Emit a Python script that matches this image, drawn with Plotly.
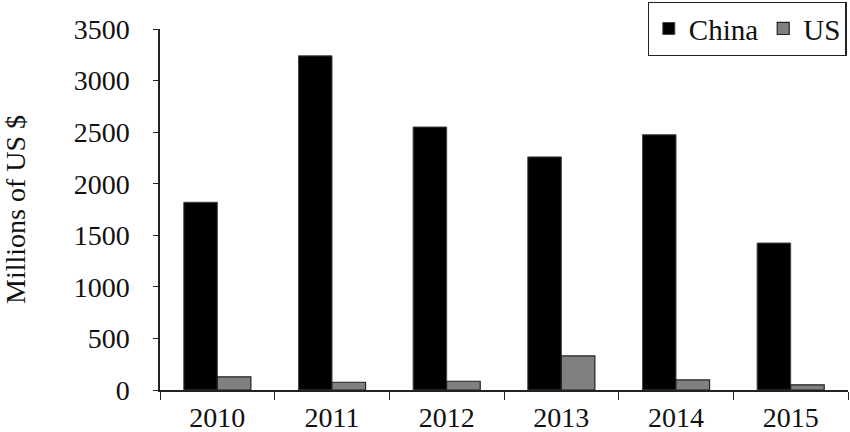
import plotly.graph_objects as go

years = ["2010", "2011", "2012", "2013", "2014", "2015"]
china = [1820, 3240, 2550, 2260, 2475, 1425]
us = [128, 75, 85, 330, 98, 50]

serif = "Liberation Serif"

fig = go.Figure()
fig.add_trace(go.Bar(
    x=years, y=china, name="China",
    marker=dict(color="#000000", line=dict(color="#444444", width=1)),
))
fig.add_trace(go.Bar(
    x=years, y=us, name="US",
    marker=dict(color="#808080", line=dict(color="#222222", width=1.2)),
))

fig.update_layout(
    width=850, height=432,
    margin=dict(l=160, r=2, t=29, b=42, autoexpand=False),
    plot_bgcolor="white", paper_bgcolor="white",
    barmode="group", bargap=0.415, bargroupgap=0,
    font=dict(family=serif, size=28, color="#111111"),
    showlegend=True,
    legend=dict(
        orientation="h", x=0.998, y=1.075, xanchor="right", yanchor="top",
        bordercolor="#222222", borderwidth=1.2, bgcolor="white",
        font=dict(family=serif, size=29), itemwidth=30,
    ),
    yaxis=dict(
        range=[0, 3500], dtick=500, showgrid=False, zeroline=False,
        showline=True, linecolor="#222222", linewidth=1.5,
        ticks="outside", ticklen=5, tickcolor="#222222", ticklabelstandoff=18,
        title=dict(text="Millions of US $", font=dict(family=serif, size=28), standoff=42),
    ),
    xaxis=dict(
        showgrid=False, showline=True, linecolor="#222222", linewidth=1.5,
        ticks="outside", ticklen=8, tickcolor="#222222", tickson="boundaries",
        ticklabelstandoff=2,
    ),
)

fig.write_html("out.html", config={"displayModeBar": False},
               post_script="document.body.style.margin='0';")
